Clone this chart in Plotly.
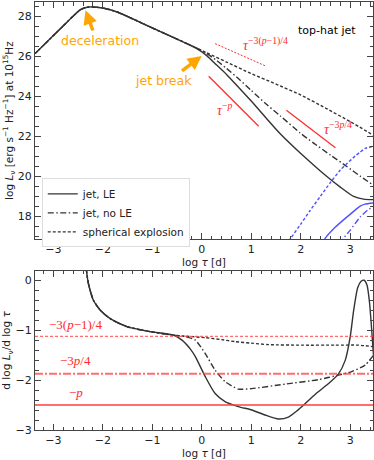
import plotly.graph_objects as go
from plotly.subplots import make_subplots

# ---- top panel: log L_nu vs log tau ----
early_x = [-3.37, -3.06, -2.72, -2.45, -2.29, -2.0, -1.71, -1.04, -0.3]
early_y = [26.12, 26.87, 27.7, 28.32, 28.45, 28.4, 28.2, 27.45, 26.62]

jet_le_x = [-0.1, 0.1, 0.3, 0.5, 0.75, 1.0, 1.3, 1.59, 1.99, 2.39, 2.8, 3.07, 3.27, 3.47]
jet_le_y = [26.37, 26.02, 25.55, 25.08, 24.42, 23.75, 22.9, 22.1, 21.15, 20.27, 19.45, 18.98, 18.85, 18.82]

jet_nole_x = [-0.1, 0.1, 0.3, 0.5, 0.75, 1.0, 1.3, 1.59, 1.99, 2.26, 2.6, 2.93, 3.2, 3.47]
jet_nole_y = [26.4, 26.12, 25.78, 25.38, 24.85, 24.28, 23.6, 23.0, 22.15, 21.65, 21.05, 20.48, 20.0, 19.54]

sph_x = [0.1, 0.5, 1.0, 1.5, 2.0, 2.5, 3.0, 3.47]
sph_y = [26.16, 25.7, 25.12, 24.6, 24.05, 23.4, 22.72, 22.04]

# counter-jet contributions (blue)
cj_sph_x = [1.7, 1.79, 2.0, 2.19, 2.4, 2.6, 2.8, 2.93, 3.1, 3.2, 3.3, 3.47]
cj_sph_y = [16.55, 16.87, 17.6, 18.28, 19.0, 19.68, 20.3, 20.62, 21.0, 21.2, 21.38, 21.5]
cj_le_x = [2.45, 2.49, 2.7, 2.93, 3.1, 3.2, 3.3, 3.47]
cj_le_y = [16.6, 16.87, 17.45, 17.95, 18.3, 18.5, 18.6, 18.66]
cj_nole_x = [2.8, 2.85, 3.0, 3.2, 3.35, 3.47]
cj_nole_y = [16.6, 16.85, 17.3, 17.95, 18.3, 18.47]

# power-law guide segments
guide_x = [[0.27, 1.30], [0.14, 1.15], [1.71, 2.70]]
guide_y = [[26.62, 25.49], [24.99, 22.49], [23.29, 21.42]]

# ---- bottom panel: local slope ----
s_early_x = [-2.36, -2.33, -2.29, -2.19, -2.05, -1.85, -1.51, -1.04, -0.57]
s_early_y = [0.5, 0.19, -0.07, -0.4, -0.6, -0.77, -0.93, -1.03, -1.1]

s_le_x = [-0.4, -0.23, -0.13, 0.07, 0.27, 0.47, 0.74, 1.01, 1.28, 1.55, 1.75, 1.92, 2.06,
          2.3, 2.55, 2.76, 2.9, 3.0, 3.07, 3.15, 3.22, 3.28, 3.34, 3.39, 3.43, 3.47]
s_le_y = [-1.2, -1.38, -1.53, -1.93, -2.27, -2.43, -2.53, -2.6, -2.7, -2.78, -2.74, -2.62, -2.5,
          -2.28, -2.08, -1.88, -1.6, -1.13, -0.6, -0.15, -0.02, 0.0, -0.1, -0.45, -0.95, -1.5]

s_nole_x = [-0.33, -0.13, 0.07, 0.27, 0.47, 0.74, 1.01, 1.69, 2.36, 2.76, 3.03, 3.3, 3.47]
s_nole_y = [-1.13, -1.2, -1.47, -1.8, -2.03, -2.18, -2.17, -2.08, -1.99, -1.9, -1.83, -1.7, -1.5]

s_sph_x = [-0.33, 0.07, 0.4, 0.68, 1.0, 1.35, 2.02, 2.7, 3.17, 3.47]
s_sph_y = [-1.12, -1.15, -1.19, -1.23, -1.26, -1.29, -1.3, -1.3, -1.3, -1.33]

ref_slopes = [-1.125, -1.875, -2.5]
ref_labels = ['−3(<i>p</i>−1)/4', '−3<i>p</i>/4', '−<i>p</i>']

BLACK = '#333333'
BLUE = 'rgba(50,50,255,0.85)'
RED = '#ff2a2a'
PALE_RED = 'rgba(255,60,60,0.75)'
ORANGE = '#ffa500'
MATH = 'Liberation Serif'
DASHES = {'solid': 'solid', 'dashdot': '6px,2.5px,1.5px,2.5px', 'dot': '3px,2px'}

fig = make_subplots(rows=2, cols=1)

styles = [('jet, LE', 'solid'), ('jet, no LE', 'dashdot'), ('spherical explosion', 'dot')]
tops = [(jet_le_x, jet_le_y), (jet_nole_x, jet_nole_y), (sph_x, sph_y)]
for (name, dash), (xs, ys) in zip(styles, tops):
    fig.add_trace(go.Scatter(x=early_x + xs, y=early_y + ys, mode='lines', name=name,
                             line=dict(color=BLACK, width=1.4, dash=DASHES[dash], shape='spline', smoothing=0.6)),
                  row=1, col=1)

for (xs, ys), dash in zip([(cj_le_x, cj_le_y), (cj_nole_x, cj_nole_y), (cj_sph_x, cj_sph_y)],
                          ['solid', 'dashdot', 'dot']):
    fig.add_trace(go.Scatter(x=xs, y=ys, mode='lines', showlegend=False,
                             line=dict(color=BLUE, width=1.4, dash=DASHES[dash], shape='spline', smoothing=0.6)),
                  row=1, col=1)

for (xs, ys), dash, w in zip(zip(guide_x, guide_y), ['2px,1.5px', 'solid', 'solid'], [1, 1.2, 1.2]):
    fig.add_trace(go.Scatter(x=xs, y=ys, mode='lines', showlegend=False,
                             line=dict(color=RED, width=w, dash=dash)), row=1, col=1)

bottoms = [(s_le_x, s_le_y), (s_nole_x, s_nole_y), (s_sph_x, s_sph_y)]
for (name, dash), (xs, ys) in zip(styles, bottoms):
    fig.add_trace(go.Scatter(x=s_early_x + xs, y=s_early_y + ys, mode='lines', showlegend=False,
                             line=dict(color=BLACK, width=1.4, dash=DASHES[dash], shape='spline', smoothing=0.6)),
                  row=2, col=1)

for s, dash, w in zip(ref_slopes, ['3px,2px', '8px,2px,2px,2px', 'solid'], [1.4, 2, 2]):
    fig.add_hline(y=s, line=dict(color=PALE_RED, width=w, dash=dash), row=2, col=1)

for s, lab, dy in zip(ref_slopes, ref_labels, [0.13, 0.15, 0.14]):
    fig.add_annotation(x=-2.55, y=s + dy, xref='x2', yref='y2', text=lab, showarrow=False,
                       font=dict(family=MATH, size=13, color=RED), yanchor='bottom', yshift=-4)

# top-panel labels
fig.add_annotation(x=0.8, y=26.58, xref='x', yref='y', xanchor='left', showarrow=False,
                   text='<i>τ</i><sup>−3(<i>p</i>−1)/4</sup>', font=dict(family=MATH, size=14, color=RED))
fig.add_annotation(x=0.47, y=23.37, xref='x', yref='y', showarrow=False,
                   text='<i>τ</i><sup>−<i>p</i></sup>', font=dict(family=MATH, size=14, color=RED))
fig.add_annotation(x=2.75, y=22.39, xref='x', yref='y', showarrow=False,
                   text='<i>τ</i><sup>−3<i>p</i>/4</sup>', font=dict(family=MATH, size=14, color=RED))
fig.add_annotation(x=0.956, y=0.953, xref='paper', yref='paper', xanchor='right', showarrow=False,
                   text='top-hat jet', font=dict(family='DejaVu Sans', size=11, color='black'))

fig.add_annotation(x=-2.05, y=26.78, xref='x', yref='y', showarrow=False, text='deceleration',
                   font=dict(family='DejaVu Sans', size=12.5, color=ORANGE))
fig.add_annotation(x=-0.78, y=24.8, xref='x', yref='y', showarrow=False, text='jet break',
                   font=dict(family='DejaVu Sans', size=12.5, color=ORANGE))
for hx, hy, tx, ty in [(-2.35, 28.29, -2.19, 27.2), (0.0, 26.0, -0.43, 25.2)]:
    fig.add_annotation(x=hx, y=hy, ax=tx, ay=ty, xref='x', yref='y', axref='x', ayref='y',
                       text='', showarrow=True, arrowhead=2, arrowsize=0.8, arrowwidth=3.5,
                       arrowcolor=ORANGE, standoff=0, startstandoff=0)

axis_common = dict(showline=True, linecolor='#444', linewidth=1, mirror='allticks', ticks='inside',
                   ticklen=6, tickcolor='#444', showgrid=False, zeroline=False, automargin=False,
                   tickfont=dict(family='DejaVu Sans', size=11, color='#222'))

fig.update_xaxes(axis_common, range=[-3.37, 3.46], dtick=1,
                 minor=dict(ticks='inside', dtick=0.2, ticklen=3.5, tickcolor='#444'),
                 title=dict(text='log <i>τ</i> [d]', standoff=2,
                            font=dict(family='DejaVu Sans', size=10.5, color='#222')))
fig.update_yaxes(axis_common, row=1, col=1, range=[16.85, 28.7], dtick=2, domain=[0.446, 1],
                 minor=dict(ticks='inside', dtick=0.5, ticklen=3.5, tickcolor='#444'),
                 title=dict(text='log <i>L</i><sub>ν</sub> [erg s<sup>−1</sup> Hz<sup>−1</sup>] at 10<sup>15</sup>Hz',
                            standoff=2, font=dict(family='DejaVu Sans', size=10.5, color='#222')))
fig.update_yaxes(axis_common, row=2, col=1, range=[-3, 0.19], dtick=1, domain=[0, 0.372],
                 minor=dict(ticks='inside', dtick=0.2, ticklen=3.5, tickcolor='#444'),
                 title=dict(text='d log <i>L</i><sub>ν</sub>/d log <i>τ</i>', standoff=2,
                            font=dict(family='DejaVu Sans', size=10.5, color='#222')))

fig.update_layout(width=374, height=460, margin=dict(l=35, r=1, t=2, b=30),
                  paper_bgcolor='white', plot_bgcolor='white',
                  legend=dict(x=0.02, y=0.588, xanchor='left', yanchor='top', bgcolor='white',
                              bordercolor='#dddddd', borderwidth=1, itemwidth=30, tracegroupgap=0,
                              font=dict(family='DejaVu Sans', size=10.5, color='#222')))

# drop the default page margin so the 374x460 figure fills the window exactly
fig.write_html('out.html', config={'displayModeBar': False},
               post_script="document.body.style.margin='0';document.body.style.overflow='hidden';")
